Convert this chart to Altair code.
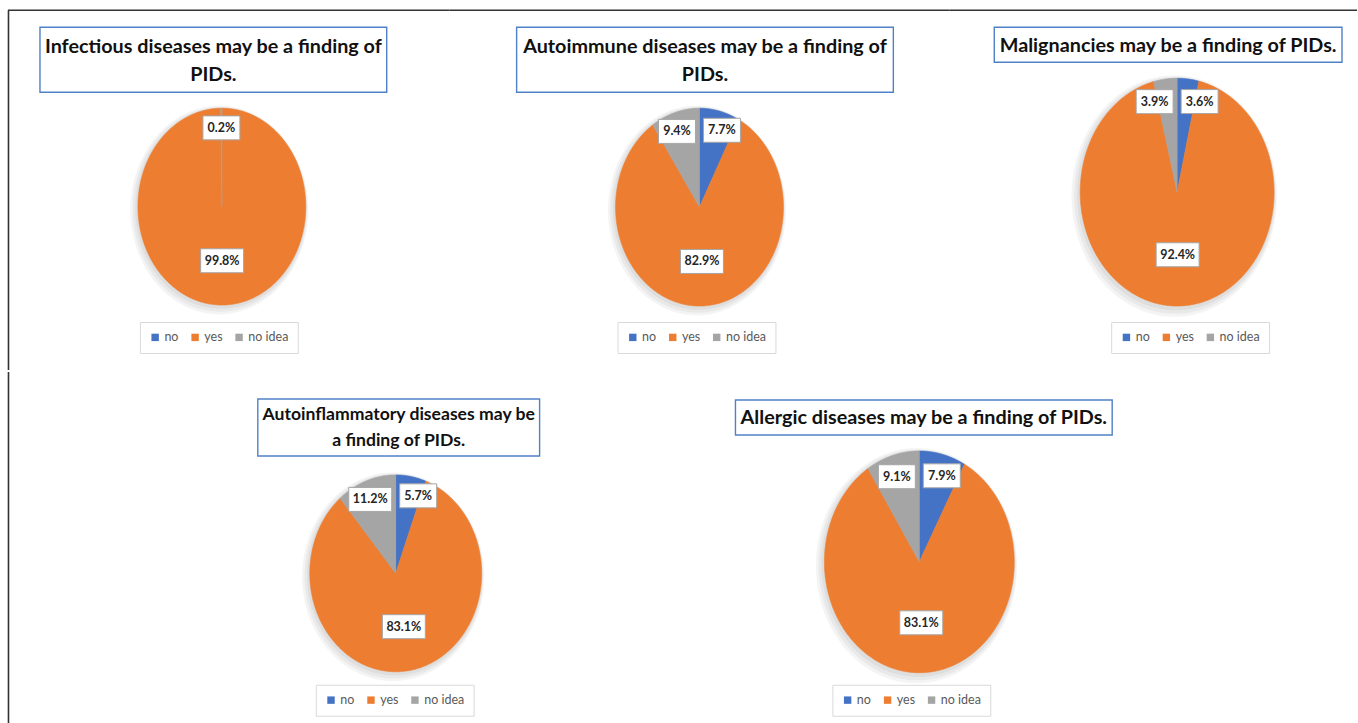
import math
import altair as alt
import pandas as pd

# ---------------- data ----------------
titles = [
    "Infectious diseases may be a finding of\nPIDs.",
    "Autoimmune diseases may be a finding of\nPIDs.",
    "Malignancies may be a finding of PIDs.",
    "Autoinflammatory diseases may be\na finding of PIDs.",
    "Allergic diseases may be a finding of PIDs.",
]
categories = ["no", "yes", "no idea"]
no_pct = [0.0, 7.7, 3.6, 5.7, 7.9]
yes_pct = [99.8, 82.9, 92.4, 83.1, 83.1]
noidea_pct = [0.2, 9.4, 3.9, 11.2, 9.1]
colors = ["#4472C4", "#ED7D31", "#A5A5A5"]

# ---------------- layout (pixels, per panel) ----------------
# W, H, cx, cy, rx, ry, title box (x1, y1, x2, y2), legend (x, y), title font size
layout = [
    dict(W=450, H=370, cx=222, cy=206.5, rx=84, ry=98.5, tb=(40, 27, 387, 92), lg=(140, 322), fs=19.8),
    dict(W=500, H=370, cx=250, cy=207, rx=84, ry=99, tb=(67, 27, 444, 92), lg=(168, 322), fs=19.8),
    dict(W=408, H=370, cx=228, cy=192, rx=97, ry=114, tb=(45, 27, 393, 62), lg=(162, 322), fs=19.8),
    dict(W=660, H=353, cx=396, cy=201.5, rx=86, ry=98.5, tb=(258, 27, 540, 84), lg=(316, 313), fs=17.6),
    dict(W=698, H=353, cx=260, cy=190, rx=95, ry=111, tb=(76, 28, 453, 63), lg=(173, 313), fs=19.8),
]

FONT = "Lato"
LINE_H = 28


def panel(i, L, top_border, left_border_start):
    vals = [no_pct[i], yes_pct[i], noidea_pct[i]]
    total = sum(vals)
    both_small = vals[0] > 0 and vals[2] > 0
    rows, labels = [], []
    start = 0.0
    for cat, v in zip(categories, vals):
        if v <= 0:
            continue
        a1 = start / total * 2 * math.pi
        a2 = (start + v) / total * 2 * math.pi
        n = max(2, int(math.ceil((a2 - a1) / (math.pi / 360))))
        rows.append(dict(cat=cat, idx=0, x=0.0, y=0.0))
        for k in range(n + 1):
            t = a1 + (a2 - a1) * k / n
            rows.append(dict(cat=cat, idx=k + 1, x=math.sin(t), y=math.cos(t)))
        rows.append(dict(cat=cat, idx=n + 2, x=0.0, y=0.0))
        mid = (a1 + a2) / 2
        share = v / total
        r = 0.55 if share > 0.5 else 0.8
        txt = f"{v:.1f}%"
        hw = 21.5 if len(txt) >= 5 else 18.5
        dx_px = r * L["rx"] * math.sin(mid)
        if both_small and share < 0.5:
            sgn = 1 if math.sin(mid) >= 0 else -1
            dx_px = sgn * max(abs(dx_px), hw + 4)
        labels.append(dict(lx=dx_px / L["rx"], ly=r * math.cos(mid), txt=txt, n=len(txt)))
        start += v

    # soft drop shadow: a few slightly enlarged, shifted outlines of the pie
    shadow_rows = []
    for j, (f, ox, oy) in enumerate(((1.06, -0.03, -0.035), (1.04, -0.022, -0.028), (1.02, -0.012, -0.018))):
        for k in range(361):
            t = 2 * math.pi * k / 360
            shadow_rows.append(dict(ring=j, idx=k, x=ox + f * math.sin(t), y=oy + f * math.cos(t)))
    shadow = pd.DataFrame(shadow_rows)

    poly = pd.DataFrame(rows)
    lab = pd.DataFrame(labels)
    xs = alt.Scale(domain=[-1, 1], range=[L["cx"] - L["rx"], L["cx"] + L["rx"]], nice=False, zero=False)
    ys = alt.Scale(domain=[-1, 1], range=[L["cy"] + L["ry"], L["cy"] - L["ry"]], nice=False, zero=False)
    cs = alt.Scale(domain=categories, range=colors)

    one = pd.DataFrame({"t": [titles[i]]})

    layers = []
    # outer frame pieces
    if top_border:
        layers.append(
            alt.Chart(one).mark_rule(color="#333333", strokeWidth=1.6).encode(
                x=alt.value(8 if left_border_start is not None else 0), x2=alt.value(L["W"]),
                y=alt.value(10), y2=alt.value(10)
            )
        )
    if left_border_start is not None:
        layers.append(
            alt.Chart(one).mark_rule(color="#333333", strokeWidth=1.6).encode(
                x=alt.value(8.5), x2=alt.value(8.5), y=alt.value(left_border_start), y2=alt.value(L["H"])
            )
        )

    layers.append(
        alt.Chart(shadow).mark_line(filled=True, fill="#000000", fillOpacity=0.045, strokeWidth=0).encode(
            x=alt.X("x:Q", scale=xs, axis=None),
            y=alt.Y("y:Q", scale=ys, axis=None),
            order=alt.Order("idx:Q"),
            detail="ring:N",
        )
    )

    pie = alt.Chart(poly).mark_line(filled=True, strokeWidth=0.6, interpolate="linear").encode(
        x=alt.X("x:Q", scale=xs, axis=None),
        y=alt.Y("y:Q", scale=ys, axis=None),
        order=alt.Order("idx:Q"),
        detail="cat:N",
        color=alt.Color(
            "cat:N",
            scale=cs,
            legend=alt.Legend(
                orient="none",
                legendX=L["lg"][0],
                legendY=L["lg"][1],
                direction="horizontal",
                title=None,
                symbolType="square",
                symbolSize=55,
                symbolStrokeWidth=0,
                labelFont=FONT,
                labelFontSize=12.5,
                labelColor="#595959",
                labelOffset=3,
                columnPadding=10,
                strokeColor="#d9d9d9",
                fillColor="white",
                padding=9,
            ),
        ),
        stroke=alt.Stroke("cat:N", scale=cs, legend=None),
    )
    layers.append(pie)

    for nchar, hw in ((4, 18.5), (5, 21.5)):
        layers.append(
            alt.Chart(lab)
            .transform_filter(alt.datum.n == nchar)
            .mark_rect(fill="white", stroke="#a6a6a6", strokeWidth=1,
                       xOffset=-hw, x2Offset=hw, yOffset=-12, y2Offset=12)
            .encode(
                x=alt.X("lx:Q", scale=xs, axis=None),
                x2="lx:Q",
                y=alt.Y("ly:Q", scale=ys, axis=None),
                y2="ly:Q",
            )
        )
    layers.append(
        alt.Chart(lab).mark_text(font=FONT, fontWeight="bold", fontSize=12.5, color="#262626",
                                 align="center", baseline="middle").encode(
            x=alt.X("lx:Q", scale=xs, axis=None),
            y=alt.Y("ly:Q", scale=ys, axis=None),
            text="txt:N",
        )
    )

    x1, y1, x2, y2 = L["tb"]
    nlines = titles[i].count("\n") + 1
    lh = LINE_H if L["fs"] > 19 else 26
    ty = (y1 + y2) / 2 + 1 - (nlines - 1) * lh / 2
    layers.append(
        alt.Chart(one).mark_rect(fill="white", stroke="#4f81c7", strokeWidth=1.4).encode(
            x=alt.value(x1), x2=alt.value(x2), y=alt.value(y1), y2=alt.value(y2)
        )
    )
    layers.append(
        alt.Chart(one).mark_text(font=FONT, fontWeight="bold", fontSize=L["fs"], color="#111111",
                                 align="center", baseline="middle", lineBreak="\n",
                                 lineHeight=lh).encode(
            x=alt.value((x1 + x2) / 2), y=alt.value(ty), text="t:N"
        )
    )

    return alt.layer(*layers).properties(width=L["W"], height=L["H"])


p = [
    panel(0, layout[0], True, 10),
    panel(1, layout[1], True, None),
    panel(2, layout[2], True, None),
    panel(3, layout[3], False, 0),
    panel(4, layout[4], False, None),
]
res = dict(color="independent", stroke="independent", x="independent", y="independent")
top = alt.hconcat(p[0], p[1], p[2], spacing=0, bounds="flush").resolve_scale(**res)
bottom = alt.hconcat(p[3], p[4], spacing=0, bounds="flush").resolve_scale(**res)
chart = (
    alt.vconcat(top, bottom, spacing=0)
    .resolve_scale(**res)
    .configure_view(stroke=None)
    .properties(padding=0, background="white")
)

chart.save("out.html", embed_options={"renderer": "svg", "actions": False})
